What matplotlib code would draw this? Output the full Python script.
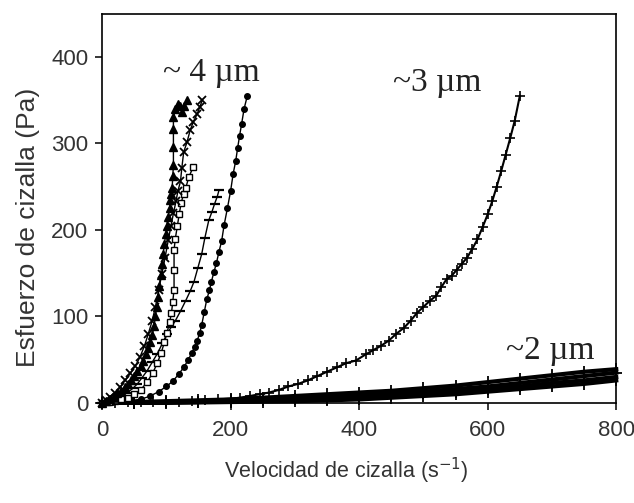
import matplotlib
matplotlib.use("Agg")
import matplotlib.pyplot as plt

# ---------------- data ----------------
# ~4 um group
tri_x = [0, 6, 12, 18, 23, 29, 35, 40, 45, 50, 55, 60, 64, 68, 72, 75, 78, 81, 83, 85, 87, 89, 91, 93,
         95, 97, 99, 101, 103, 105, 106, 108, 109, 110, 111, 111, 111, 111, 114, 118, 122, 125, 128, 132]
tri_y = [0, 2, 4, 7, 11, 14, 18, 22, 26, 31, 37, 43, 49, 56, 63, 70, 78, 89, 100, 111, 122, 135, 148, 160,
         172, 184, 195, 205, 215, 225, 234, 241, 248, 262, 275, 296, 317, 330, 340, 346, 343, 336, 343, 350]

x_x = [0, 6, 12, 20, 28, 36, 44, 52, 59, 66, 72, 78, 83, 88, 93, 98, 103, 107, 111, 115, 118, 122, 124,
       127, 132, 137, 142, 148, 152, 156]
x_y = [0, 3, 7, 12, 18, 26, 34, 43, 53, 66, 80, 95, 111, 130, 149, 168, 188, 204, 219, 233, 245, 256, 271,
       290, 301, 315, 325, 334, 342, 350]

sq_x = [0, 10, 20, 30, 41, 50, 60, 70, 79, 86, 92, 97, 101, 105, 108, 110, 112, 112, 112, 114, 117, 120,
        123, 127, 130, 135, 142]
sq_y = [0, 1, 2, 4, 6, 10, 15, 24, 35, 46, 58, 70, 81, 93, 104, 117, 131, 154, 177, 190, 204, 218,
        231, 242, 248, 261, 273]

dash_x = [0, 10, 20, 30, 40, 48, 55, 62, 70, 78, 86, 94, 101, 108, 114, 122, 130, 137, 143, 149, 155, 160,
          166, 171, 175, 179, 182]
dash_y = [0, 2, 4, 8, 12, 17, 22, 29, 37, 47, 57, 69, 80, 88, 95, 106, 118, 129, 140, 156, 172, 191,
          211, 221, 230, 238, 246]

circ_x = [0, 15, 30, 45, 60, 75, 88, 100, 110, 119, 128, 134, 140, 144, 148, 152, 155, 159, 163, 167, 170,
          174, 178, 182, 186, 190, 195, 200, 204, 208, 211, 214, 217, 221, 226]
circ_y = [0, 1, 2, 3, 4, 8, 13, 19, 25, 33, 42, 50, 58, 65, 72, 81, 90, 105, 120, 130, 140,
          151, 162, 175, 187, 206, 225, 245, 265, 280, 295, 309, 322, 340, 355]

# ~3 um
p3_x = [0, 20, 40, 60, 80, 100, 120, 140, 160, 180, 200, 215, 230, 245, 260, 275, 290, 305, 320, 335,
        350, 365, 380, 395, 410, 422, 434, 446, 458, 470, 480, 490, 500, 510, 520, 528, 536, 544, 552,
        560, 568, 576, 584, 592, 600, 607, 614, 621, 628, 635, 642, 650]
p3_y = [0, 0, 0.5, 0.5, 1, 1, 1.5, 2, 3, 4, 5, 6, 8, 10, 12, 15, 19, 22, 26, 31,
        36, 41, 46, 49, 56, 61, 66, 72, 80, 87, 95, 104, 111, 118, 124, 134, 143, 147, 154,
        161, 168, 178, 189, 203, 218, 233, 250, 268, 287, 306, 326, 355]

# ~2 um
b_x = [0, 50, 100, 150, 200, 250, 300, 350, 400, 450, 500, 550, 600, 650, 700, 750, 800]
b1_y = [0, 1, 2, 3, 4, 6, 8, 10, 12, 14, 17, 20, 24, 28, 32, 36, 39]
b2_y = [0, 0.5, 1, 2, 3, 4, 6, 7, 9, 11, 13, 16, 19, 23, 27, 31, 35]
b3_y = [0, 0, 0.5, 1, 2, 3, 4, 5, 7, 9, 11, 13, 16, 19, 23, 26, 30]
b4_y = [0, 0, 0, 0.5, 1, 1.5, 2, 3, 4, 6, 8, 10, 13, 16, 19, 22, 26]

x_ticks = [0, 200, 400, 600, 800]
y_ticks = [0, 100, 200, 300, 400]

labels = ["~ 4 \u00b5m", "~3 \u00b5m", "~2 \u00b5m"]
label_pos = [(170, 382), (522, 370), (698, 60)]

SANS = "Liberation Sans"

# ---------------- figure ----------------
fig = plt.figure(figsize=(6.34, 5.03), dpi=100)
ax = fig.add_axes([0.161, 0.199, 0.811, 0.774])

k = dict(color="black", lw=1.0, clip_on=False)
for yy, mk in [(b1_y, "|"), (b2_y, "_"), (b3_y, "|"), (b4_y, "|")]:
    ax.plot(b_x, yy, marker=mk, ms=9, mew=1.3, color="black", lw=3.0, clip_on=False)

ax.plot(p3_x, p3_y, marker="+", ms=7, mew=1.2, **{**k, "lw": 1.5})

ax.plot(circ_x, circ_y, marker="o", ms=4, **k)
ax.plot(dash_x, dash_y, marker="_", ms=7, mew=1.6, **k)
ax.plot(sq_x, sq_y, marker="s", ms=4.5, mfc="white", mew=1.0, **k)
ax.plot(x_x, x_y, marker="x", ms=6, mew=1.3, **k)
ax.plot(tri_x, tri_y, marker="^", ms=6, **k)

for t, (lx, ly) in zip(labels, label_pos):
    ax.text(lx, ly, t, fontsize=24, family="Liberation Serif", ha="center", va="center", color="#222222")

ax.set_xlim(0, 800)
ax.set_ylim(0, 450)
ax.set_xticks(x_ticks)
ax.set_yticks(y_ticks)
for s in ax.spines.values():
    s.set_linewidth(1.2)
    s.set_color("black")
ax.tick_params(direction="out", length=5, width=1.1, labelsize=16, colors="black",
               labelcolor="#333333")
ax.tick_params(axis="x", pad=7)
ax.tick_params(axis="y", pad=5)
for lab in ax.get_xticklabels() + ax.get_yticklabels():
    lab.set_family(SANS)

ax.set_xlabel("Velocidad de cizalla (s$^{-1}$)", fontsize=15.5, family=SANS,
              color="#333333")
ax.set_ylabel("Esfuerzo de cizalla (Pa)", fontsize=19, family=SANS,
              color="#333333")
ax.xaxis.set_label_coords(0.475, -0.135)
ax.yaxis.set_label_coords(-0.12, 0.45)

fig.savefig("out.png", dpi=100)
